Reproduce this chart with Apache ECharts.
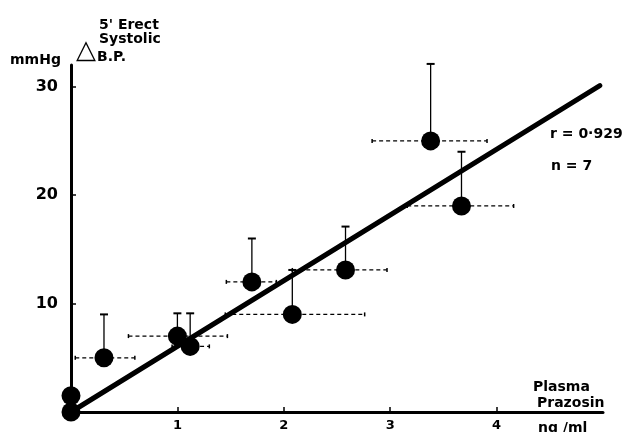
<!DOCTYPE html>
<html>
<head>
<meta charset="utf-8">
<script src="https://cdn.jsdelivr.net/npm/echarts@6/dist/echarts.min.js"></script>
<style>
html,body{margin:0;padding:0;background:#fff;}
#chart{width:629px;height:432px;}
</style>
</head>
<body>
<div id="chart"></div>
<script>
// Data
var plasma     = [0,    0,    0.31, 1.00, 1.12, 1.70, 2.08, 2.58, 3.38, 3.67];
var bp         = [0,    1.5,  5.0,  7.0,  6.05, 12.0, 9.0,  13.1, 25.0, 19.0];
var bpUpper    = [null, null, 9.0,  9.1,  9.1,  16.0, 13.1, 17.1, 32.1, 24.0];
var plasmaLow  = [null, null, 0.04, 0.54, 0.95, 1.46, 1.45, 2.08, 2.83, 3.16];
var plasmaHigh = [null, null, 0.60, 1.47, 1.30, 1.93, 2.76, 2.97, 3.91, 4.16];
var fitX = [0, 4.97];
var fitY = [0, 30.1];
var xTicks = [1, 2, 3, 4];
var yTicks = [10, 20, 30];

var chart = echarts.init(document.getElementById('chart'), null, {renderer: 'canvas'});
var FONT = '"DejaVu Sans", "Liberation Sans", sans-serif';

var errData = plasma.map(function (x, i) {
  return [x, bp[i], bpUpper[i], plasmaLow[i], plasmaHigh[i]];
}).filter(function (d) { return d[2] !== null; });

function txt(s, x, y, size) {
  return {type: 'text', x: x, y: y, style: {text: s, font: 'bold ' + size + 'px ' + FONT, fill: '#000', verticalAlign: 'top'}};
}

var option = {
  backgroundColor: '#fff',
  animation: false,
  grid: {left: 71, right: 26, top: 65, bottom: 18, containLabel: false},
  xAxis: {
    type: 'value', min: 0, max: 5, interval: 1,
    axisLine: {lineStyle: {color: '#000', width: 3}},
    axisTick: {inside: true, length: 5, customValues: xTicks, lineStyle: {color: '#000', width: 1.5}},
    splitLine: {show: false},
    axisLabel: {
      color: '#000', fontFamily: FONT, fontWeight: 'bold', fontSize: 13, margin: 7,
      customValues: xTicks
    }
  },
  yAxis: {
    type: 'value', min: 0, max: 32, interval: 10,
    axisLine: {lineStyle: {color: '#000', width: 3}},
    axisTick: {inside: true, length: 5, customValues: yTicks, lineStyle: {color: '#000', width: 1.5}},
    splitLine: {show: false},
    axisLabel: {
      color: '#000', fontFamily: FONT, fontWeight: 'bold', fontSize: 16, margin: 13,
      customValues: yTicks
    }
  },
  series: [
    {
      type: 'line', z: 3,
      data: fitX.map(function (x, i) { return [x, fitY[i]]; }),
      symbol: 'none',
      lineStyle: {color: '#000', width: 5, cap: 'round'}
    },
    {
      type: 'custom', z: 4,
      data: errData,
      renderItem: function (params, api) {
        var p = api.coord([api.value(0), api.value(1)]);
        var top = api.coord([api.value(0), api.value(2)]);
        var lo = api.coord([api.value(3), api.value(1)]);
        var hi = api.coord([api.value(4), api.value(1)]);
        var cap = 4;
        return {
          type: 'group',
          children: [
            {type: 'line', shape: {x1: p[0], y1: p[1], x2: top[0], y2: top[1]},
             style: {stroke: '#000', lineWidth: 1.3}},
            {type: 'line', shape: {x1: top[0] - cap, y1: top[1], x2: top[0] + cap, y2: top[1]},
             style: {stroke: '#000', lineWidth: 2}},
            {type: 'line', shape: {x1: lo[0], y1: lo[1], x2: hi[0], y2: hi[1]},
             style: {stroke: '#000', lineWidth: 1.2, lineDash: [4, 3]}},
            {type: 'line', shape: {x1: lo[0], y1: lo[1] - 2, x2: lo[0], y2: lo[1] + 2},
             style: {stroke: '#000', lineWidth: 1.5}},
            {type: 'line', shape: {x1: hi[0], y1: hi[1] - 2, x2: hi[0], y2: hi[1] + 2},
             style: {stroke: '#000', lineWidth: 1.5}}
          ]
        };
      }
    },
    {
      type: 'scatter', z: 5,
      data: plasma.map(function (x, i) { return [x, bp[i]]; }),
      symbol: 'circle', symbolSize: 19,
      itemStyle: {color: '#000', opacity: 1}
    }
  ],
  graphic: [
    txt('mmHg', 10, 53, 14),
    {type: 'text', x: 76, y: 38, style: {text: '△', font: '26px "DejaVu Sans", sans-serif', fill: '#000', verticalAlign: 'top'}},
    txt("5' Erect", 99, 18, 14),
    txt('Systolic', 99, 32, 14),
    txt('B.P.', 97, 50, 14),
    txt('r = 0·929', 550, 127, 14),
    txt('n = 7', 551, 159, 14),
    txt('Plasma', 533, 380, 14),
    txt('Prazosin', 537, 396, 14),
    txt('ng /ml', 538, 421, 14)
  ]
};
chart.setOption(option);
</script>
</body>
</html>
